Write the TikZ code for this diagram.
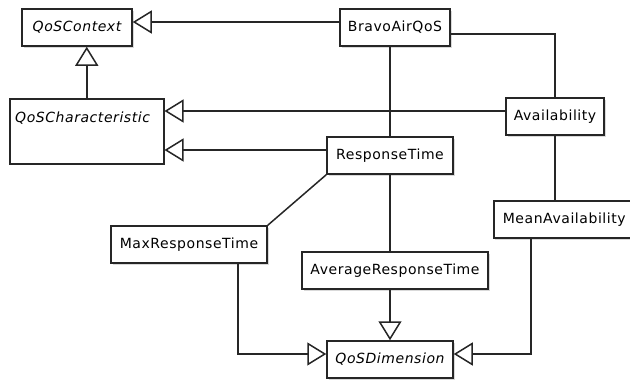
\documentclass[tikz,border=0pt]{standalone}
\usepackage{fontspec}
\setmainfont{DejaVu Sans}[LetterSpace=4]
\usetikzlibrary{arrows.meta,shadows,calc}
\begin{document}
\begin{tikzpicture}[x=1pt,y=-1pt,
  box/.style={draw=black!85, line width=1.5pt, fill=white, minimum height=37pt, inner sep=0pt,
    font=\fontsize{14}{16}\selectfont,
    drop shadow={shadow xshift=1.5pt, shadow yshift=-1.5pt, opacity=0.3}},
  absbox/.style={box, font=\fontsize{14}{16}\selectfont\itshape},
  link/.style={draw=black!85, line width=1.5pt},
  gen/.style={link, -{Triangle[open, length=19pt, width=23pt, fill=white]}}]
\useasboundingbox (0,0) rectangle (630,380);
% classes
\node[absbox, minimum width=110pt] (ctx) at (77,27.5) {QoSContext};
\node[box, minimum width=154pt, minimum height=65pt, anchor=north west] (chr) at (9,98) {};
\node[anchor=west, inner sep=0pt, font=\fontsize{14}{16}\selectfont\itshape] (chrlabel) at (15,118) {QoSCharacteristic};
\node[box, minimum width=110pt] (bravo) at (395,27.5) {BravoAirQoS};
\node[box, minimum width=98pt] (avail) at (555,116.5) {Availability};
\node[box, minimum width=126pt] (resp) at (390,155.5) {ResponseTime};
\node[box, minimum width=156pt] (maxr) at (189,244.5) {MaxResponseTime};
\node[box, minimum width=186pt] (avg) at (395,270.5) {AverageResponseTime};
\node[box, minimum width=141pt, anchor=west, align=left, inner xsep=6pt] (mean) at (493,219.5) {MeanAvailability};
\node[absbox, minimum width=126pt] (dim) at (390,359.5) {QoSDimension};
% connectors
\draw[gen] (bravo.west |- 0,22) -- (ctx.east |- 0,22);
\draw[gen] (chr.north) -- (chr.north |- ctx.south);
\draw[gen] (avail.west |- 0,111) -- (chr.east |- 0,111);
\draw[gen] (resp.west |- 0,150) -- (chr.east |- 0,150);
\draw[link] (bravo.east |- 0,34) -| (avail.north);
\draw[link] (bravo.south -| resp.north) -- (resp.north);
\draw[link] (resp.south west) -- (maxr.north east);
\draw[link] (resp.south) -- (resp.south |- avg.north);
\draw[gen] (resp.south |- avg.south) -- (resp.south |- dim.north);
\draw[link] (avail.south) -- (avail.south |- mean.north);
\coordinate (mturn) at (238,354);
\draw[gen] (maxr.south -| mturn) -- (mturn) -- (dim.west |- mturn);
\coordinate (nturn) at (531,354);
\draw[gen] (mean.south -| nturn) -- (nturn) -- (dim.east |- nturn);
\end{tikzpicture}
\end{document}
